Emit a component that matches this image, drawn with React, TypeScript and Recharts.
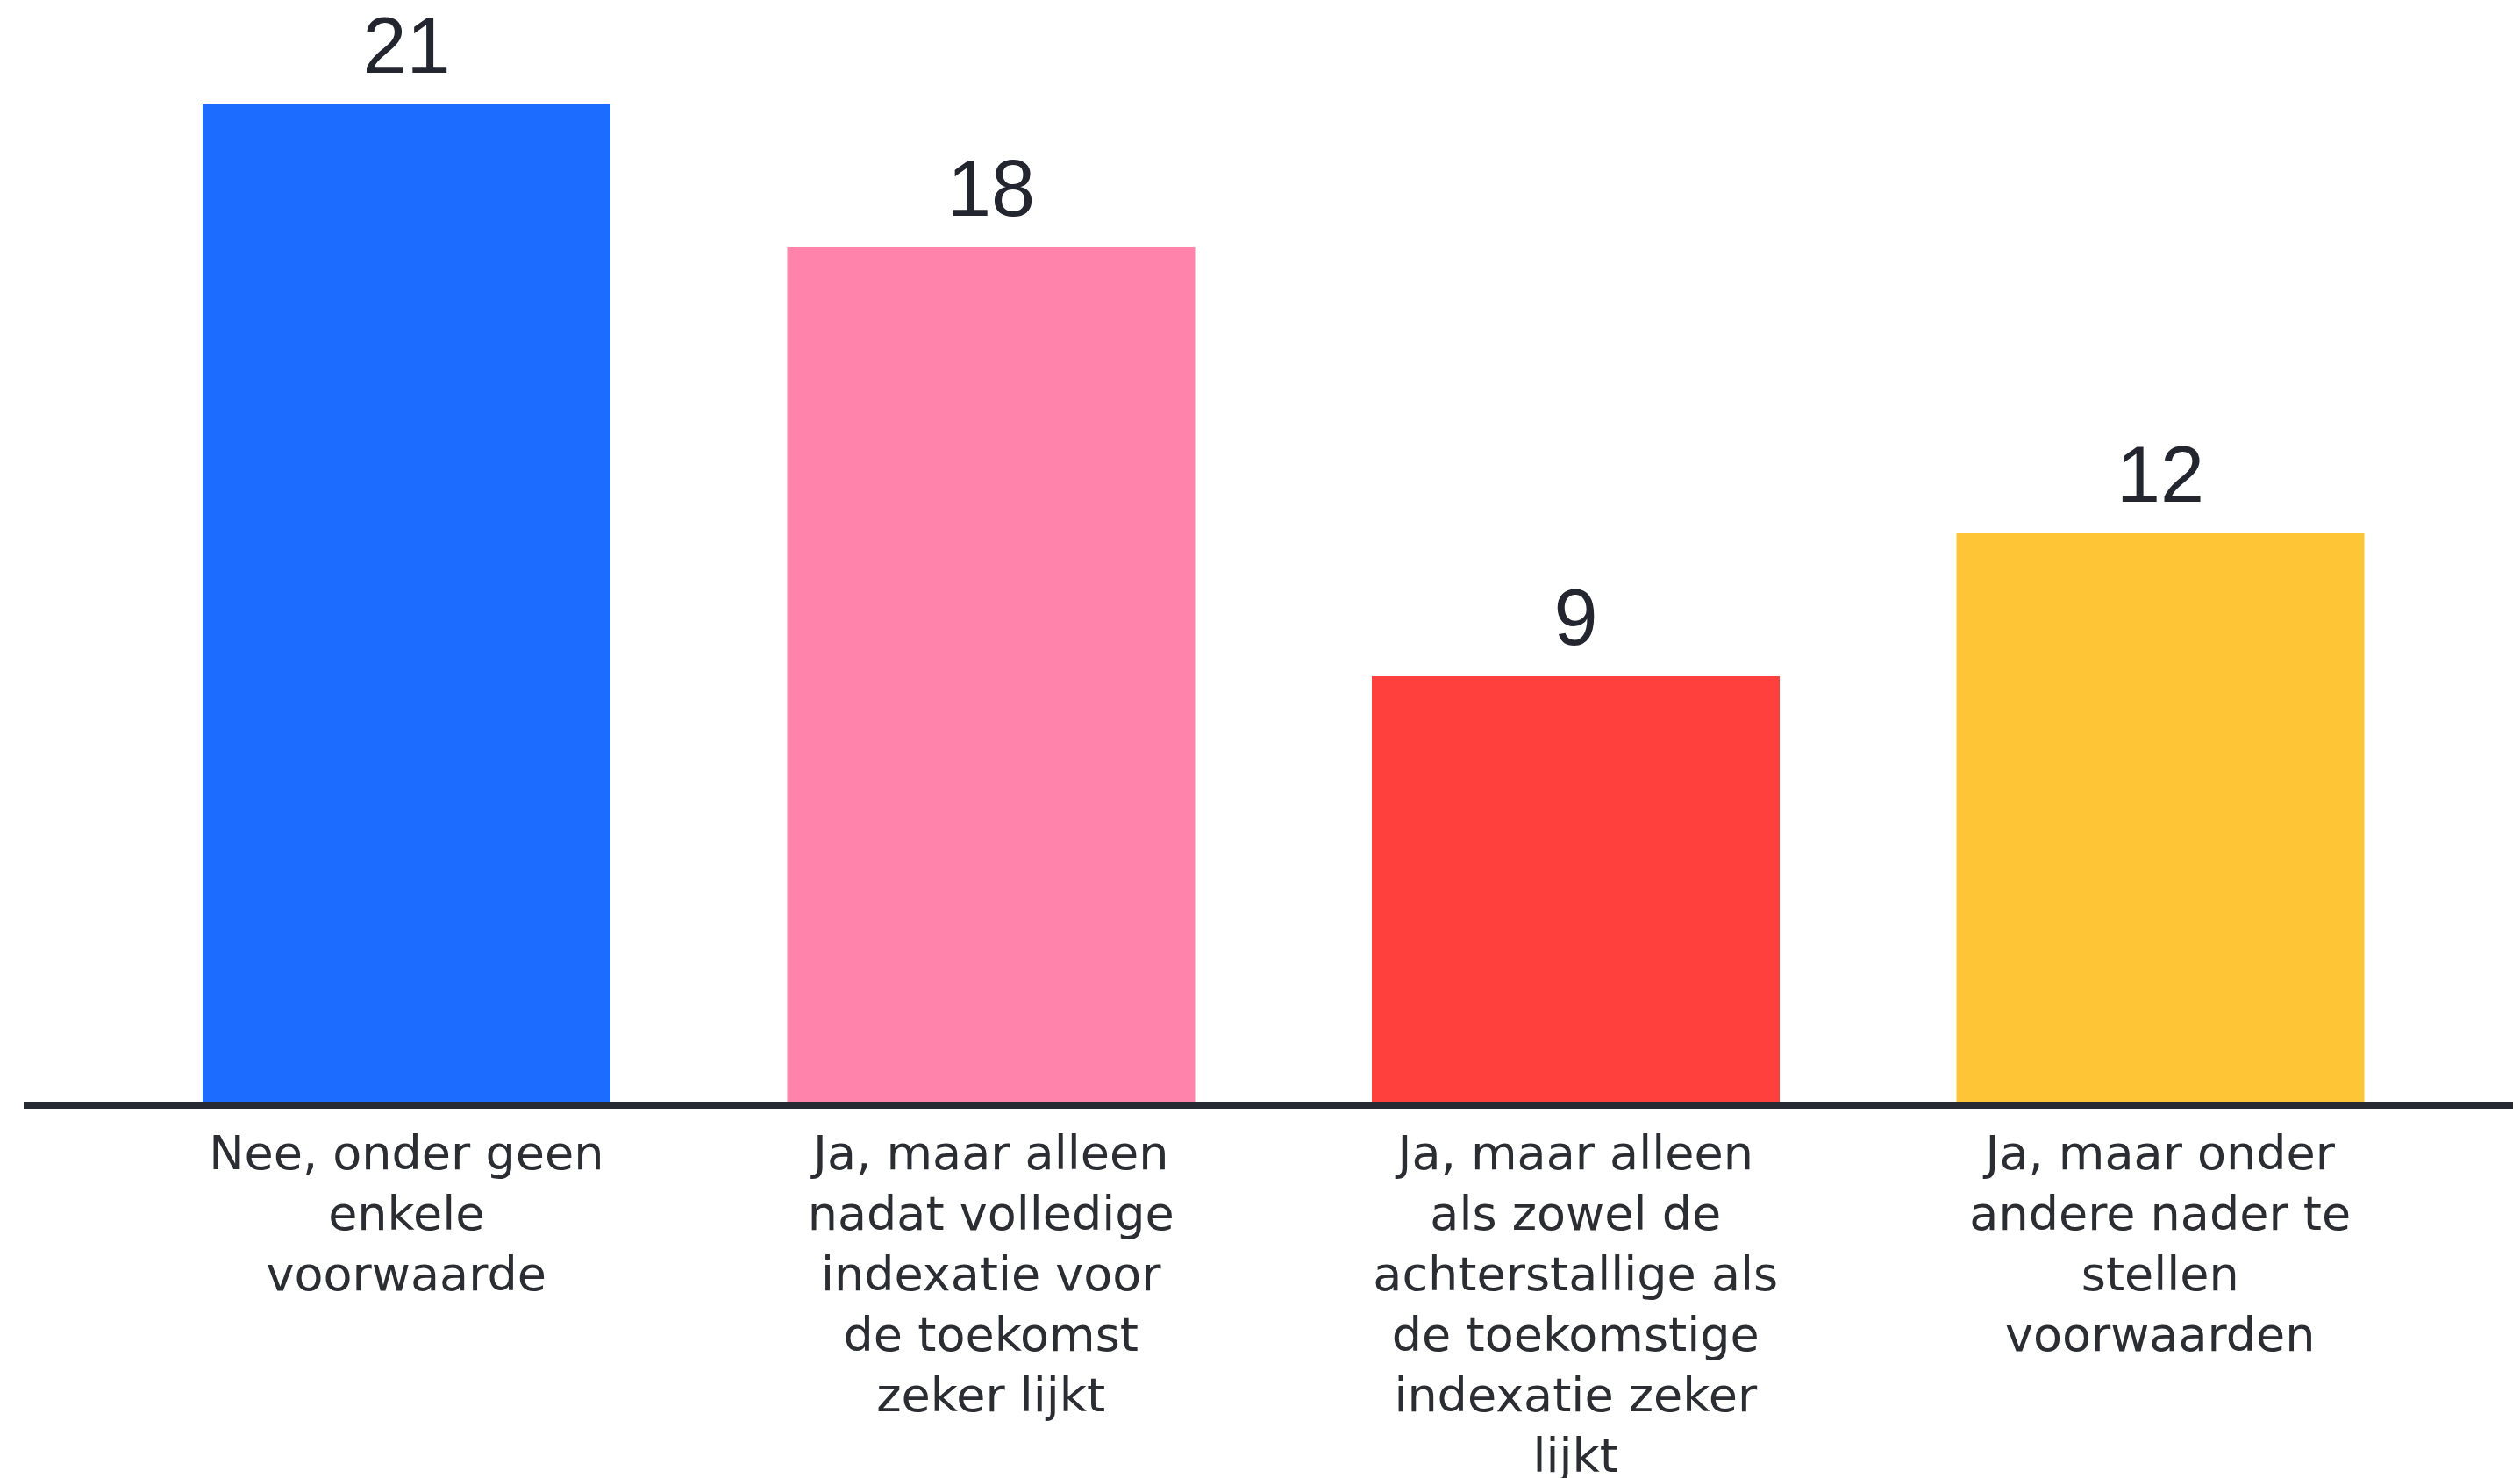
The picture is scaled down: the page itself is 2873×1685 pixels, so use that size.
import { BarChart, Bar, XAxis, YAxis, Cell, LabelList } from "recharts"

const categories = [
  "Nee, onder geen enkele voorwaarde",
  "Ja, maar alleen nadat volledige indexatie voor de toekomst zeker lijkt",
  "Ja, maar alleen als zowel de achterstallige als de toekomstige indexatie zeker lijkt",
  "Ja, maar onder andere nader te stellen voorwaarden",
]

// line breaks as in the original picture
const tickLines = [
  ["Nee, onder geen", "enkele", "voorwaarde"],
  ["Ja, maar alleen", "nadat volledige", "indexatie voor", "de toekomst", "zeker lijkt"],
  ["Ja, maar alleen", "als zowel de", "achterstallige als", "de toekomstige", "indexatie zeker", "lijkt"],
  ["Ja, maar onder", "andere nader te", "stellen", "voorwaarden"],
]

const values = [21, 18, 9, 12]

const barColors = ["#1c6cff", "#ff83aa", "#ff403c", "#fec537"]

const data = categories.map((name, i) => ({ name, value: values[i], idx: i }))

function CategoryTick(props: any) {
  const { x, y, index } = props
  const lines = tickLines[index] || []
  return (
    <g>
      {lines.map((line, i) => (
        <text
          key={i}
          x={x}
          y={y + 65 + i * 69}
          textAnchor="middle"
          fill="#2b2d33"
          fontFamily="'DejaVu Sans', sans-serif"
          fontSize={54}
        >
          {line}
        </text>
      ))}
    </g>
  )
}

export default function App() {
  return (
    <div style={{ width: 2865, height: 1677, background: "#ffffff" }}>
      <BarChart width={2865} height={1677} data={data} margin={{ top: 111, right: 0, bottom: 0, left: 19 }}>
        <XAxis
          dataKey="name"
          height={425}
          interval={0}
          tickLine={false}
          axisLine={{ stroke: "#272a33", strokeWidth: 8 }}
          padding={{ left: 103, right: 77 }}
          tick={<CategoryTick />}
        />
        <YAxis hide domain={[0, 21]} />
        <Bar dataKey="value" barSize={465} isAnimationActive={false}>
          {data.map((d, i) => (
            <Cell key={d.name} fill={barColors[i]} />
          ))}
          <LabelList
            dataKey="value"
            position="top"
            offset={36}
            fill="#23262e"
            fontFamily="'Liberation Sans', Arial, sans-serif"
            fontSize={90}
          />
        </Bar>
      </BarChart>
    </div>
  )
}
